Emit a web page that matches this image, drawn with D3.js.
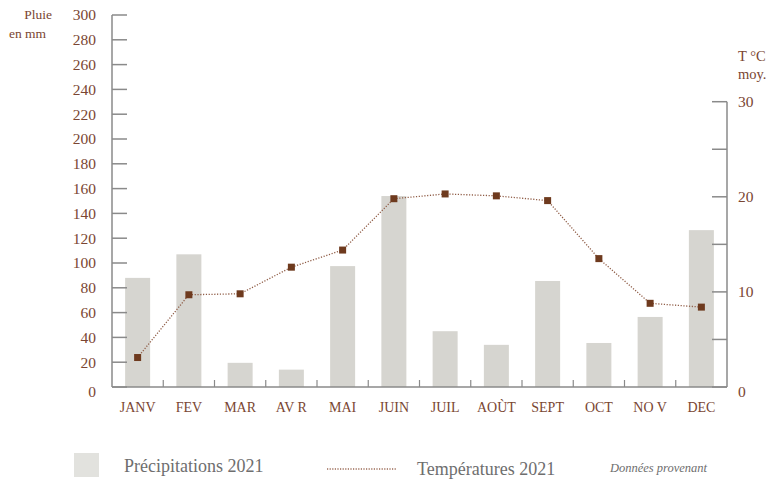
<!DOCTYPE html>
<html><head><meta charset="utf-8">
<script src="https://cdn.jsdelivr.net/npm/d3@7"></script>
<style>body{margin:0;background:#fff}svg{display:block}</style>
</head><body>
<svg id="c" width="769" height="479"></svg>
<script>
const months = ["JANV","FEV","MAR","AV R","MAI","JUIN","JUIL","AOÙT","SEPT","OCT","NO V","DEC"];
const rain = [88,107,19.5,14,97.5,154,45,34,85.5,35.5,56.5,126.5];
const temp = [3.1,9.7,9.8,12.6,14.4,19.8,20.3,20.1,19.6,13.5,8.8,8.4];
const rainTicks = d3.range(0,301,20);
const tempTicks = [0,5,10,15,20,25,30];
const tempLabels = [0,10,20,30];

const svg = d3.select("#c");
const font = "'Liberation Serif', 'DejaVu Serif', serif";
const brown = "#7a4632";
const axisCol = "#8a8a8a";

const x = d3.scaleBand().domain(months).range([112,727]).paddingInner(0).paddingOuter(0);
const yR = d3.scaleLinear().domain([0,300]).range([387,15]);
const yT = d3.scaleLinear().domain([0,30]).range([387,101.7]);

// bars
svg.append("g").selectAll("rect").data(rain).join("rect")
  .attr("x",(d,i)=>x(months[i])+x.bandwidth()/2-12.5)
  .attr("width",25)
  .attr("y",d=>yR(d))
  .attr("height",d=>yR(0)-yR(d))
  .attr("fill","#d6d5d0");

// left axis
const gl = svg.append("g");
gl.append("line").attr("x1",112).attr("x2",112).attr("y1",yR(300)).attr("y2",yR(0))
  .attr("stroke",axisCol).attr("stroke-width",1.5);
gl.selectAll("line.t").data(rainTicks).join("line").attr("class","t")
  .attr("x1",112).attr("x2",127).attr("y1",d=>yR(d)).attr("y2",d=>yR(d))
  .attr("stroke",axisCol).attr("stroke-width",1.5);
gl.selectAll("text").data(rainTicks).join("text")
  .attr("x",96).attr("y",d=>yR(d)+(d===0?5:0)).attr("dy","0.35em")
  .attr("text-anchor","end").attr("font-family",font).attr("font-size",15.5).attr("fill",brown)
  .text(d=>d);

// right axis
const gr = svg.append("g");
gr.append("line").attr("x1",727).attr("x2",727).attr("y1",yT(30)).attr("y2",yT(0))
  .attr("stroke",axisCol).attr("stroke-width",1.5);
gr.selectAll("line.t").data(tempTicks).join("line").attr("class","t")
  .attr("x1",712).attr("x2",727).attr("y1",d=>yT(d)).attr("y2",d=>yT(d))
  .attr("stroke",axisCol).attr("stroke-width",1.5);
gr.selectAll("text").data(tempLabels).join("text")
  .attr("x",738).attr("y",d=>yT(d)+(d===0?5:0)).attr("dy","0.35em")
  .attr("text-anchor","start").attr("font-family",font).attr("font-size",15.5).attr("fill",brown)
  .text(d=>d);

// bottom axis
const gb = svg.append("g");
gb.append("line").attr("x1",112).attr("x2",727).attr("y1",387).attr("y2",387)
  .attr("stroke",axisCol).attr("stroke-width",1.5);
gb.selectAll("line.t").data(months.slice(1)).join("line").attr("class","t")
  .attr("x1",d=>x(d)).attr("x2",d=>x(d)).attr("y1",387).attr("y2",380)
  .attr("stroke",axisCol).attr("stroke-width",1.2);
gb.selectAll("text").data(months).join("text")
  .attr("x",d=>x(d)+x.bandwidth()/2).attr("y",407).attr("dy","0.35em")
  .attr("text-anchor","middle").attr("font-family",font).attr("font-size",14).attr("fill",brown)
  .text(d=>d);

// temperature line
const line = d3.line().x((d,i)=>x(months[i])+x.bandwidth()/2).y(d=>yT(d));
svg.append("path").datum(temp).attr("d",line).attr("fill","none")
  .attr("stroke","#8f5c46").attr("stroke-width",1.3).attr("stroke-dasharray","1.2,1.6");
svg.append("g").selectAll("rect").data(temp).join("rect")
  .attr("x",(d,i)=>x(months[i])+x.bandwidth()/2-3.5).attr("y",d=>yT(d)-3.5)
  .attr("width",7).attr("height",7).attr("fill","#6e3a1e");

// axis titles
const t = svg.append("g").attr("font-family",font).attr("font-size",13.5).attr("fill",brown);
t.append("text").attr("x",52).attr("y",19).attr("text-anchor","end").text("Pluie");
t.append("text").attr("x",9).attr("y",38).text("en mm");
t.append("text").attr("x",738).attr("y",61).attr("font-size",14.5).text("T °C");
t.append("text").attr("x",738).attr("y",79).attr("font-size",14.5).text("moy.");

// legend
const lg = svg.append("g").attr("font-family",font);
lg.append("rect").attr("x",74).attr("y",453).attr("width",25).attr("height",24).attr("fill","#e2e2de");
lg.append("text").attr("x",124).attr("y",472).attr("font-size",18).attr("fill","#6e6e6e").text("Précipitations 2021");
lg.append("line").attr("x1",327).attr("x2",396).attr("y1",469).attr("y2",469)
  .attr("stroke","#9a6a55").attr("stroke-width",1.3).attr("stroke-dasharray","1.2,1.4");
lg.append("text").attr("x",417).attr("y",475).attr("font-size",18).attr("fill","#6e6e6e").text("Températures 2021");
lg.append("text").attr("x",610).attr("y",472).attr("font-size",12.5).attr("font-style","italic").attr("fill","#6e6e6e").text("Données provenant");
</script>
</body></html>
